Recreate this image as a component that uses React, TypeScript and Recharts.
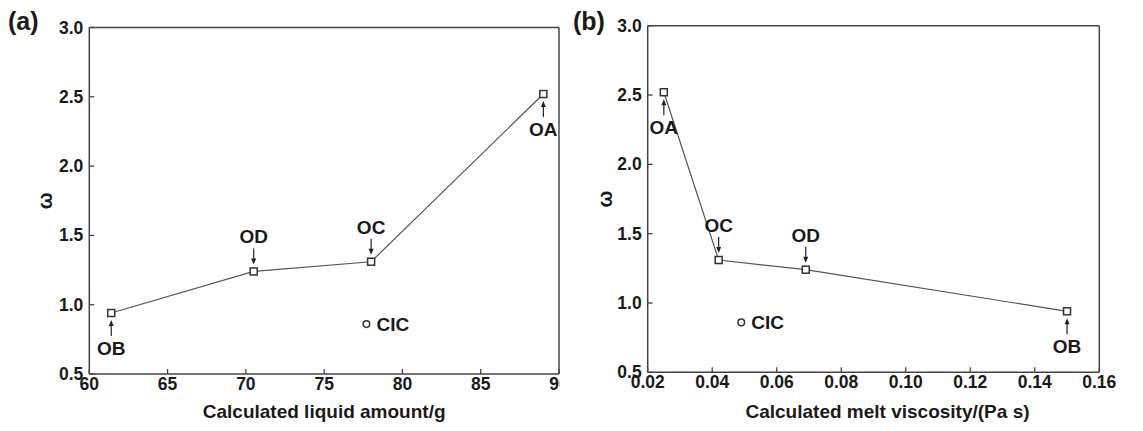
import React from 'react';
import { ComposedChart, Line, Scatter, XAxis, YAxis, ReferenceLine } from 'recharts';

// ---- data ----
const sampleNames = ['OB', 'OD', 'OC', 'OA'];
const liquidAmount = [61.4, 70.5, 78.0, 89.0];
const meltViscosity = [0.15, 0.069, 0.042, 0.025];
const omegaValues = [0.94, 1.24, 1.31, 2.52];

const cicName = 'CIC';
const cicLiquid = 77.7;
const cicViscosity = 0.049;
const cicOmega = 0.86;

const liquidTicks = [60, 65, 70, 75, 80, 85, 90];
const viscosityTicks = [0.02, 0.04, 0.06, 0.08, 0.1, 0.12, 0.14, 0.16];
const omegaTicks = [0.5, 1.0, 1.5, 2.0, 2.5, 3.0];

const liquidTitle = 'Calculated liquid amount/g';
const viscosityTitle = 'Calculated melt viscosity/(Pa s)';
const yTitle = 'ω';

// ---- styles ----
const FONT = '"Liberation Sans", Arial, Helvetica, sans-serif';
const TEXT = '#1a1a1a';
const FRAME = '#444';
const LINE = '#555';
const belowNames = new Set(['OB', 'OA']);

const makeXTick = (digits: number) => (props: any) => {
  const { x, y, payload } = props;
  return (
    <g>
      <line x1={x} x2={x} y1={y} y2={y - 5} stroke={FRAME} strokeWidth={1.3} />
      <text x={x} y={y + 16} textAnchor="middle" fontSize={17.5} fontWeight="bold" fontFamily={FONT} fill={TEXT}>
        {Number(payload.value).toFixed(digits)}
      </text>
    </g>
  );
};

const YTick = (props: any) => {
  const { x, y, payload } = props;
  return (
    <g>
      <line x1={x} x2={x + 5} y1={y} y2={y} stroke={FRAME} strokeWidth={1.3} />
      <text x={x - 6} y={y + 6} textAnchor="end" fontSize={17.5} fontWeight="bold" fontFamily={FONT} fill={TEXT}>
        {Number(payload.value).toFixed(1)}
      </text>
    </g>
  );
};

const SampleDot = (props: any) => {
  const { cx, cy, payload, index } = props;
  if (cx == null || cy == null) return <g key={`e-${index}`} />;
  const below = belowNames.has(payload.name);
  const s = below ? 1 : -1;
  const tip = cy + s * 7;
  const tail = cy + s * 23;
  const head = `M${cx},${tip} L${cx - 2.5},${tip + s * 6} L${cx + 2.5},${tip + s * 6} Z`;
  return (
    <g key={`d-${index}`}>
      <line x1={cx} x2={cx} y1={tail} y2={tip + s * 5} stroke="#222" strokeWidth={1.2} />
      <path d={head} fill="#222" />
      <rect x={cx - 3.5} y={cy - 3.5} width={7} height={7} fill="#fff" stroke="#333" strokeWidth={1.5} />
      <text
        x={cx}
        y={below ? cy + 42 : cy - 28}
        textAnchor="middle"
        fontSize={19}
        fontWeight="bold"
        fontFamily={FONT}
        fill={TEXT}
      >
        {payload.name}
      </text>
    </g>
  );
};

const CicShape = (props: any) => {
  const { cx, cy, payload } = props;
  return (
    <g>
      <circle cx={cx} cy={cy} r={3.3} fill="#fff" stroke="#333" strokeWidth={1.5} />
      <text x={cx + 10} y={cy + 6.5} fontSize={19} fontWeight="bold" fontFamily={FONT} fill={TEXT}>
        {payload.name}
      </text>
    </g>
  );
};

const xTitle = (title: string, shift: number) => (p: any) => {
  const vb = p.viewBox;
  return (
    <text x={vb.x + vb.width / 2 + shift} y={418} textAnchor="middle" fontSize={19} fontWeight="bold" fontFamily={FONT} fill={TEXT}>
      {title}
    </text>
  );
};

const yTitleContent = (p: any) => {
  const vb = p.viewBox;
  const x = vb.x + 45;
  const y = vb.y + vb.height / 2;
  return (
    <text
      x={x}
      y={y}
      transform={`rotate(-90 ${x} ${y})`}
      textAnchor="middle"
      dominantBaseline="central"
      fontSize={20}
      fontWeight="bold"
      fontFamily={FONT}
      fill={TEXT}
    >
      {yTitle}
    </text>
  );
};

type PanelProps = {
  xs: number[];
  cicX: number;
  ticks: number[];
  digits: number;
  title: string;
  titleShift: number;
  width: number;
  margin: { top: number; right: number; left: number; bottom: number };
  yWidth: number;
  xHeight: number;
};

const Panel = ({ xs, cicX, ticks, digits, title, titleShift, width, margin, yWidth, xHeight }: PanelProps) => {
  const rows = sampleNames.map((name, i) => ({ name, x: xs[i], y: omegaValues[i] }));
  const cic = [{ name: cicName, x: cicX, y: cicOmega }];
  const domain: [number, number] = [ticks[0], ticks[ticks.length - 1]];
  return (
    <ComposedChart width={width} height={431} margin={margin} data={rows}>
      <XAxis
        type="number"
        dataKey="x"
        domain={domain}
        ticks={ticks}
        allowDataOverflow
        tickSize={0}
        tickMargin={0}
        tickLine={false}
        tick={makeXTick(digits)}
        height={xHeight}
        axisLine={{ stroke: FRAME, strokeWidth: 1.5 }}
        label={{ content: xTitle(title, titleShift) } as any}
        interval={0}
      />
      <YAxis
        type="number"
        dataKey="y"
        domain={[0.5, 3]}
        ticks={omegaTicks}
        allowDataOverflow
        tickSize={0}
        tickMargin={0}
        tickLine={false}
        tick={YTick}
        width={yWidth}
        axisLine={{ stroke: FRAME, strokeWidth: 1.5 }}
        label={{ content: yTitleContent } as any}
        interval={0}
      />
      <ReferenceLine y={3} stroke={FRAME} strokeWidth={1.5} />
      <ReferenceLine x={domain[1]} stroke={FRAME} strokeWidth={1.5} />
      <Line
        dataKey="y"
        stroke={LINE}
        strokeWidth={1.2}
        dot={SampleDot}
        activeDot={false}
        isAnimationActive={false}
      />
      <Scatter data={cic} dataKey="y" shape={CicShape} isAnimationActive={false} />
    </ComposedChart>
  );
};

const panelLabel = (text: string, left: number) => (
  <div
    style={{
      position: 'absolute',
      left,
      top: 7,
      fontFamily: FONT,
      fontWeight: 'bold',
      fontSize: 25,
      color: TEXT,
      lineHeight: '28px',
    }}
  >
    {text}
  </div>
);

export default function App() {
  return (
    <div style={{ position: 'absolute', left: 0, top: 0, width: 1143, height: 431, background: '#fff', overflow: 'hidden' }}>
      <div style={{ position: 'absolute', left: 0, top: 0 }}>
        <Panel
          xs={liquidAmount}
          cicX={cicLiquid}
          ticks={liquidTicks}
          digits={0}
          title={liquidTitle}
          titleShift={0}
          width={560}
          margin={{ top: 27.5, right: 1, left: 0, bottom: 0 }}
          yWidth={89.3}
          xHeight={57}
        />
      </div>
      <div style={{ position: 'absolute', left: 560, top: 0 }}>
        <Panel
          xs={meltViscosity}
          cicX={cicViscosity}
          ticks={viscosityTicks}
          digits={2}
          title={viscosityTitle}
          titleShift={14}
          width={583}
          margin={{ top: 25.7, right: 43.7, left: 0, bottom: 0 }}
          yWidth={87.7}
          xHeight={58.7}
        />
      </div>
      {panelLabel('(a)', 8)}
      {panelLabel('(b)', 573)}
    </div>
  );
}
